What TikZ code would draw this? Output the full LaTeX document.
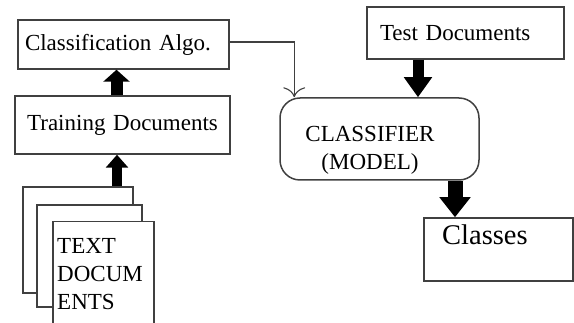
\documentclass[tikz,border=0pt]{standalone}
\usepackage{fontspec}
\setmainfont{Liberation Serif}
\usetikzlibrary{arrows.meta}
\begin{document}
\begin{tikzpicture}[x=1pt,y=-1pt,
  box/.style={draw=black!75, line width=1.5pt, fill=white, inner sep=0pt},
  txt/.style={font=\fontsize{23}{28}\selectfont, inner sep=0pt},
  thinline/.style={draw=black!75, line width=1.1pt},
  barrow/.style n args={3}{draw=black, line width=#1, -{Triangle[width=#2,length=#3]}},
]
\useasboundingbox (0,0) rectangle (574,323);
\clip (0,0) rectangle (574,323);

% left column
\node[box, txt, minimum width=211pt, minimum height=49pt, text width=197pt, align=left, inner xsep=7pt] (algo) at (123.5,44.5) {Classification Algo.};
\node[box, txt, minimum width=215pt, minimum height=58pt, text width=199pt, align=center, inner xsep=8pt] (train) at (122.5,125) {Training Documents};

% stacked text documents
\node[box, minimum width=110pt, minimum height=106pt] (p1) at (78,240) {};
\node[box, minimum width=105pt, minimum height=102pt] (p2) at (89.5,256) {};
\node[box, minimum width=101pt, minimum height=115pt, anchor=north west] (p3) at (52,221) {};
\node[txt, anchor=north west, align=left] (ptext) at (57,238) {TEXT\\DOCUM\\ENTS};

% right column
\node[box, txt, minimum width=197pt, minimum height=52pt, text width=171pt, align=left, inner xsep=13pt] (test) at (465.5,33) {Test Documents};
\node[box, rounded corners=20pt, minimum width=199pt, minimum height=82pt] (clf) at (379.5,139) {};
\node[txt, align=center] (clftext) at (370,150) {CLASSIFIER\\(MODEL)};
\node[box, minimum width=149pt, minimum height=63pt] (cls) at (498.5,249.5) {};
\node[font=\fontsize{28.5}{34}\selectfont, inner sep=0pt, anchor=base west] (clstext) at (442,245) {Classes};

% block arrows
\draw[barrow={12pt}{26pt}{12pt}] ([xshift=-6pt]train.north) -- ([xshift=-6pt]train.north |- algo.south);
\draw[barrow={10pt}{22pt}{13pt}] ([xshift=39pt]p1.north) -- ([xshift=39pt]p1.north |- train.south);
\draw[barrow={11pt}{27pt}{20pt}] ([xshift=-47.5pt]test.south) -- ([xshift=-47.5pt]test.south |- clf.north);
\draw[barrow={15pt}{30pt}{20pt}] ([xshift=75.5pt]clf.south) -- ([xshift=75.5pt]clf.south |- cls.north);

% thin connector
\draw[thinline, -{To[length=10pt,width=22pt]}] ([yshift=2.5pt]algo.east) -| ([xshift=15pt]clf.north west);
\end{tikzpicture}
\end{document}
